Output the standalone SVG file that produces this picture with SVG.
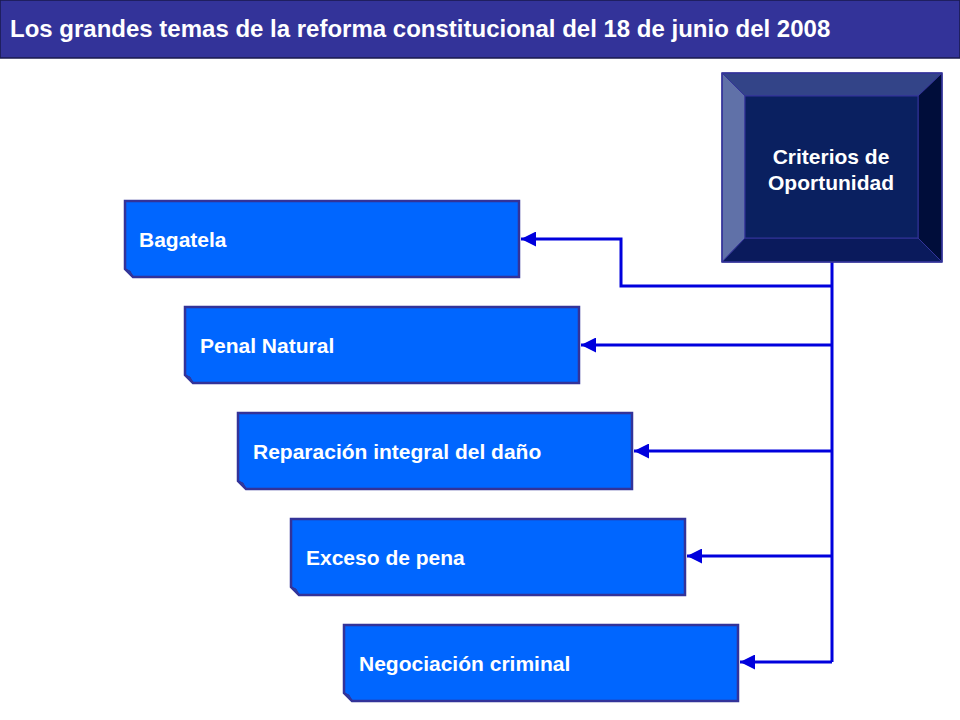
<svg xmlns="http://www.w3.org/2000/svg" width="960" height="720" viewBox="0 0 960 720">
<style>
.title{font-family:"Liberation Sans",Arial,sans-serif;font-weight:bold;font-size:24px;fill:#ffffff}
.lbl{font-family:"Liberation Sans",Arial,sans-serif;font-weight:bold;font-size:21px;fill:#ffffff}
.node{fill:#0066ff;stroke:#333399;stroke-width:2.5}
.fold{fill:#2a3fa0;stroke:#333399;stroke-width:1}
.conn{fill:none;stroke:#0000dd;stroke-width:3}
</style>
<defs>
<marker id="arr" viewBox="0 0 10 10" refX="10" refY="5" markerWidth="5.5" markerHeight="5" markerUnits="strokeWidth" orient="auto">
<path d="M0,0 L10,5 L0,10 Z" fill="#0000dd"/>
</marker>
</defs>
<rect width="960" height="720" fill="#ffffff"/>
<g id="title">
<rect x="0" y="0" width="960" height="58" fill="#333399" stroke="#1a1a4d" stroke-width="1.5"/>
<text class="title" x="10" y="37">Los grandes temas de la reforma constitucional del 18 de junio del 2008</text>
</g>
<g id="connectors">
<polyline class="conn" points="832,262 832,662"/>
<polyline class="conn" points="832,286 621,286 621,239 521,239" marker-end="url(#arr)"/>
<polyline class="conn" points="832,345 581,345" marker-end="url(#arr)"/>
<polyline class="conn" points="832,451 634,451" marker-end="url(#arr)"/>
<polyline class="conn" points="832,556 687,556" marker-end="url(#arr)"/>
<polyline class="conn" points="832,662 740,662" marker-end="url(#arr)"/>
</g>
<g id="criterios">
<polygon points="722,73 942,73 918,96 745,96" fill="#334488" stroke="#333399" stroke-width="1"/>
<polygon points="722,73 745,96 745,238 722,262" fill="#6071a8" stroke="#333399" stroke-width="1"/>
<polygon points="942,73 942,262 918,238 918,96" fill="#000d3a" stroke="#333399" stroke-width="1"/>
<polygon points="722,262 942,262 918,238 745,238" fill="#0a1a5c" stroke="#333399" stroke-width="1"/>
<rect x="745" y="96" width="173" height="142" fill="#0a2060" stroke="#333399" stroke-width="1"/>
<rect x="722" y="73" width="220" height="189" fill="none" stroke="#333399" stroke-width="1.5"/>
<text class="lbl" x="831" y="164" text-anchor="middle">Criterios de</text>
<text class="lbl" x="831" y="190" text-anchor="middle">Oportunidad</text>
</g>
<g id="bagatela">
<path class="node" d="M125,201 H519 V277 H133 L125,269 Z"/>
<path class="fold" d="M125,269 L133,277 L130,271 Z"/>
<text class="lbl" x="139" y="247">Bagatela</text>
</g>
<g id="penal-natural">
<path class="node" d="M185,307 H579 V383 H193 L185,375 Z"/>
<path class="fold" d="M185,375 L193,383 L190,377 Z"/>
<text class="lbl" x="200" y="353">Penal Natural</text>
</g>
<g id="reparacion">
<path class="node" d="M238,413 H632 V489 H246 L238,481 Z"/>
<path class="fold" d="M238,481 L246,489 L243,483 Z"/>
<text class="lbl" x="253" y="459">Reparación integral del daño</text>
</g>
<g id="exceso">
<path class="node" d="M291,519 H685 V595 H299 L291,587 Z"/>
<path class="fold" d="M291,587 L299,595 L296,589 Z"/>
<text class="lbl" x="306" y="565">Exceso de pena</text>
</g>
<g id="negociacion">
<path class="node" d="M344,625 H738 V701 H352 L344,693 Z"/>
<path class="fold" d="M344,693 L352,701 L349,695 Z"/>
<text class="lbl" x="359" y="671">Negociación criminal</text>
</g>
</svg>
